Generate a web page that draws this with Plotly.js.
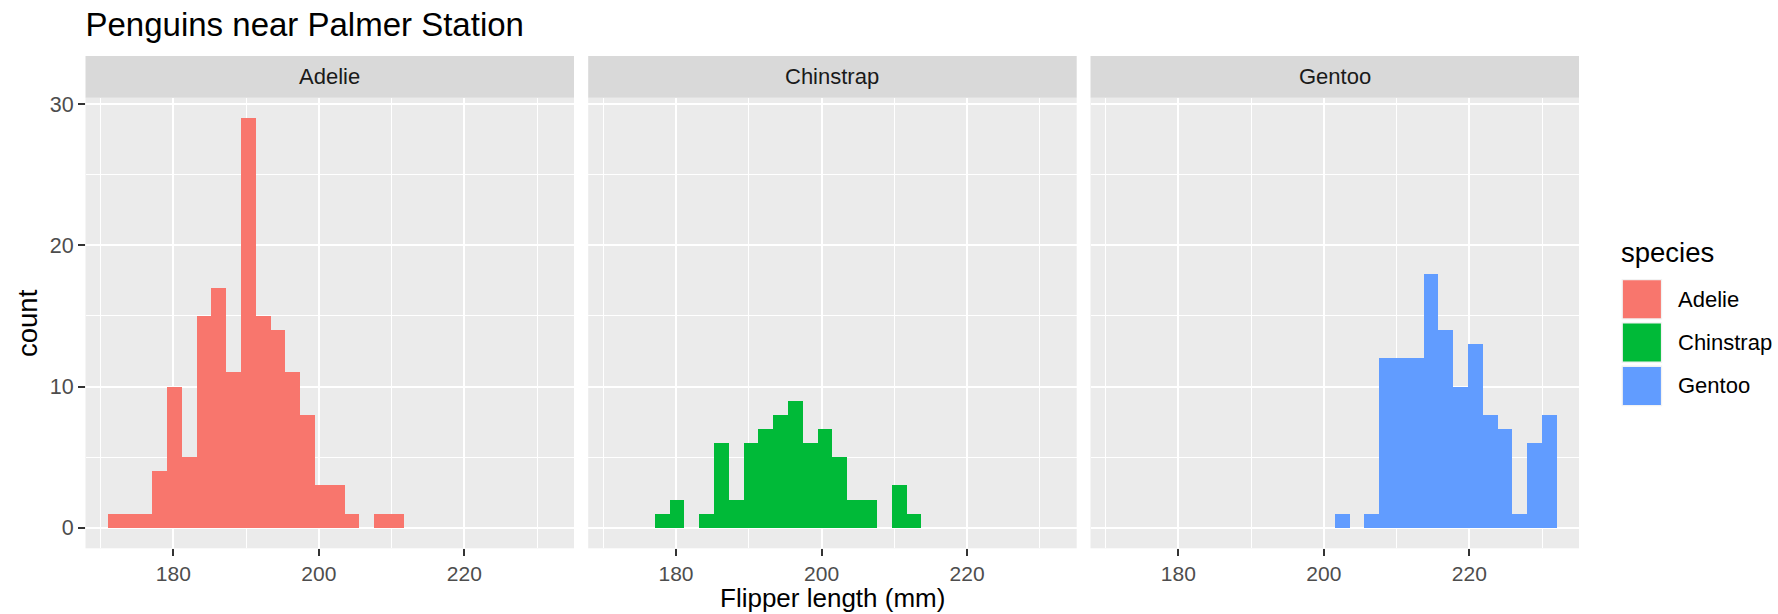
<!DOCTYPE html>
<html>
<head>
<meta charset="utf-8">
<script src="https://cdn.plot.ly/plotly-3.0.1.min.js"></script>
<style>html,body{margin:0;padding:0;background:#fff;}#chart{width:1778px;height:614px;}</style>
</head>
<body>
<div id="chart"></div>
<script>
// ---- data ----
const species = ["Adelie", "Chinstrap", "Gentoo"];
const speciesColors = ["#F8766D", "#00BA38", "#619CFF"];
const binCenters = [172.00, 174.03, 176.07, 178.10, 180.14, 182.17, 184.21, 186.24, 188.28, 190.31,
                    192.34, 194.38, 196.41, 198.45, 200.48, 202.52, 204.55, 206.59, 208.62, 210.66,
                    212.69, 214.72, 216.76, 218.79, 220.83, 222.86, 224.90, 226.93, 228.97, 231.00];
const binWidth = 2.0345;
const adelieCounts    = [1, 1, 1, 4, 10, 5, 15, 17, 11, 29, 15, 14, 11, 8, 3, 3, 1, 0, 1, 1, 0, 0, 0, 0, 0, 0, 0, 0, 0, 0];
const chinstrapCounts = [0, 0, 0, 1, 2, 0, 1, 6, 2, 6, 7, 8, 9, 6, 7, 5, 2, 2, 0, 3, 1, 0, 0, 0, 0, 0, 0, 0, 0, 0];
const gentooCounts    = [0, 0, 0, 0, 0, 0, 0, 0, 0, 0, 0, 0, 0, 0, 0, 1, 0, 1, 12, 12, 12, 18, 14, 10, 13, 8, 7, 1, 6, 8];
const xTickVals = [180, 200, 220];
const xMinorVals = [170, 190, 210, 230];
const yTickVals = [0, 10, 20, 30];
const yMinorVals = [5, 15, 25];
const titleText = "Penguins near Palmer Station";
const xTitle = "Flipper length (mm)";
const yTitle = "count";
const legendTitle = "species";

// ---- layout geometry (pixels) ----
const W = 1778, H = 614;
const panelX = [[85.5, 574], [588.2, 1076.7], [1090.5, 1579]];
const panelTop = 97.7, panelBottom = 548.3, stripTop = 56;
const px = v => v / W, py = v => 1 - v / H;
const FONT = "Liberation Sans, Arial, Helvetica, sans-serif";

const countsBySpecies = [adelieCounts, chinstrapCounts, gentooCounts];
const traces = species.map((s, i) => ({
  type: "bar",
  name: s,
  x: binCenters,
  y: countsBySpecies[i],
  width: binWidth,
  marker: {color: speciesColors[i], line: {width: 0}},
  xaxis: i === 0 ? "x" : "x" + (i + 1),
  yaxis: i === 0 ? "y" : "y" + (i + 1),
  showlegend: false,
  hoverinfo: "x+y"
}));

function xAxis(i) {
  return {
    domain: [px(panelX[i][0]), px(panelX[i][1])],
    range: [167.93, 235.07],
    anchor: i === 0 ? "y" : "y" + (i + 1),
    tickmode: "array", tickvals: xTickVals, ticktext: xTickVals.map(String),
    ticks: "outside", ticklen: 6.5, tickwidth: 2, tickcolor: "#333333",
    ticklabelstandoff: 0,
    tickfont: {family: FONT, size: 21, color: "#4D4D4D"},
    showgrid: true, gridcolor: "#FFFFFF", gridwidth: 2,
    minor: {tickmode: "array", tickvals: xMinorVals, showgrid: true, gridcolor: "#FFFFFF", gridwidth: 1, ticks: ""},
    zeroline: false, showline: false, fixedrange: true
  };
}
function yAxis(i) {
  return {
    domain: [py(panelBottom), py(panelTop)],
    range: [-1.45, 30.45],
    anchor: i === 0 ? "x" : "x" + (i + 1),
    matches: i === 0 ? undefined : "y",
    tickmode: "array", tickvals: yTickVals, ticktext: yTickVals.map(String),
    ticks: i === 0 ? "outside" : "", ticklen: 6.5, tickwidth: 2, tickcolor: "#333333",
    showticklabels: i === 0,
    tickfont: {family: FONT, size: 21.5, color: "#4D4D4D"},
    showgrid: true, gridcolor: "#FFFFFF", gridwidth: 2,
    minor: {tickmode: "array", tickvals: yMinorVals, showgrid: true, gridcolor: "#FFFFFF", gridwidth: 1, ticks: ""},
    zeroline: false, showline: false, fixedrange: true
  };
}

const shapes = [];
const annotations = [];
// facet strips
species.forEach((s, i) => {
  shapes.push({type: "rect", xref: "paper", yref: "paper",
    x0: px(panelX[i][0]), x1: px(panelX[i][1]), y0: py(panelTop), y1: py(stripTop),
    fillcolor: "#D9D9D9", line: {width: 0}, layer: "below"});
  annotations.push({xref: "paper", yref: "paper",
    x: px((panelX[i][0] + panelX[i][1]) / 2), y: py((stripTop + panelTop) / 2),
    xanchor: "center", yanchor: "middle", showarrow: false, text: s,
    font: {family: FONT, size: 22, color: "#1A1A1A"}});
});
// axis titles
annotations.push({xref: "paper", yref: "paper", x: px((panelX[0][0] + panelX[2][1]) / 2), y: 0,
  xanchor: "center", yanchor: "bottom", showarrow: false, text: xTitle, borderpad: 0,
  font: {family: FONT, size: 26, color: "#000000"}});
annotations.push({xref: "paper", yref: "paper", x: px(27), y: py((panelTop + panelBottom) / 2),
  xanchor: "center", yanchor: "middle", showarrow: false, text: yTitle, textangle: -90,
  font: {family: FONT, size: 27.5, color: "#000000"}});
// legend
annotations.push({xref: "paper", yref: "paper", x: px(1619), y: py(253),
  xanchor: "left", yanchor: "middle", showarrow: false, text: legendTitle,
  font: {family: FONT, size: 27.5, color: "#000000"}});
const keyTop = 279, keyPitch = 43.3, keySize = 40.6, keyLeft = 1621.6;
species.forEach((s, i) => {
  const t = keyTop + i * keyPitch;
  shapes.push({type: "rect", xref: "paper", yref: "paper",
    x0: px(keyLeft), x1: px(keyLeft + keySize), y0: py(t + keySize), y1: py(t),
    fillcolor: "#F2F2F2", line: {width: 0}});
  shapes.push({type: "rect", xref: "paper", yref: "paper",
    x0: px(keyLeft + 1.3), x1: px(keyLeft + keySize - 1.3), y0: py(t + keySize - 1.3), y1: py(t + 1.3),
    fillcolor: speciesColors[i], line: {width: 0}});
  annotations.push({xref: "paper", yref: "paper", x: px(1676), y: py(t + keySize / 2),
    xanchor: "left", yanchor: "middle", showarrow: false, text: s,
    font: {family: FONT, size: 22, color: "#000000"}});
});

const layout = {
  width: W, height: H,
  margin: {l: 0, r: 0, t: 0, b: 0, pad: 0},
  paper_bgcolor: "#FFFFFF", plot_bgcolor: "#EBEBEB",
  bargap: 0, barmode: "overlay",
  showlegend: false,
  title: {text: titleText, x: px(85.5), xanchor: "left", xref: "paper",
          y: py(24), yref: "container", yanchor: "middle",
          font: {family: FONT, size: 33, color: "#000000"}},
  xaxis: xAxis(0), xaxis2: xAxis(1), xaxis3: xAxis(2),
  yaxis: yAxis(0), yaxis2: yAxis(1), yaxis3: yAxis(2),
  shapes: shapes, annotations: annotations,
  font: {family: FONT}
};

Plotly.newPlot("chart", traces, layout, {displayModeBar: false, staticPlot: true});
</script>
</body>
</html>
